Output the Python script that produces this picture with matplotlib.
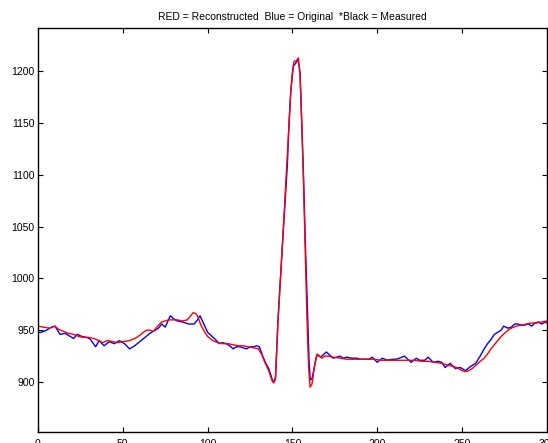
import matplotlib
matplotlib.use('Agg')
import matplotlib.pyplot as plt

# Original signal (blue)
orig_x = [0, 2, 5, 8, 10, 13, 16, 19, 21, 23, 26, 29, 31, 34, 36, 39, 42, 45, 48, 51,
          54, 57, 60, 63, 66, 69, 71, 73, 75, 78, 80, 82, 85, 87, 89, 92, 94, 95.5, 98, 100,
          102, 104, 107, 109, 111, 113, 115, 117, 119, 121, 123, 125, 127, 129, 130.5, 132.5,
          134, 136, 138, 139, 140, 141.5, 142.5, 144, 145.5, 147, 148, 149, 150.5, 152, 153,
          154, 154.5, 155.5, 156.5, 157.5, 158.8, 159.8, 160.5, 161.5, 162.5, 164, 165, 166.5,
          168, 170, 172, 174, 176, 178, 180, 182, 185, 188, 190, 192, 195, 197, 200, 203, 206,
          209, 211, 213, 216, 218, 220, 223, 225, 228, 230, 233, 236, 238, 240, 243, 246, 249,
          252, 255, 258, 261, 263, 265, 267, 269, 271, 273, 274.5, 277, 279, 281, 283, 285,
          287, 289, 291, 293, 295, 297, 299, 300]
orig_y = [948, 948, 950, 953, 954, 946, 947, 944, 942, 946, 944, 943, 941, 934, 940, 935, 939, 937, 940, 937,
          932, 935, 939, 943, 947, 950, 952, 956, 953, 964, 961, 959, 958, 957, 956, 956, 960, 964, 955, 948,
          945, 942, 937, 938, 937, 935, 932, 934, 934, 933, 932, 934, 934, 935, 934, 925,
          919, 913, 903, 900, 903, 960, 989, 1030, 1069, 1110, 1150, 1180, 1205, 1208, 1212,
          1205, 1198, 1150, 1100, 1040, 972, 920, 902, 903, 911, 924, 926, 924,
          926, 929, 926, 923, 924, 925, 923, 924, 923, 923, 922, 922, 922, 924, 919, 923, 921,
          922, 922, 923, 925, 922, 919, 923, 921, 921, 924, 919, 920, 919, 914, 918, 913, 914,
          911, 915, 918, 926, 932, 937, 941, 946, 948, 950, 954, 952, 953, 956, 956, 955,
          955, 956, 954, 957, 958, 956, 958, 957]

# Reconstructed signal (red)
recon_x = [0, 3, 7, 10, 12, 15, 18, 21, 24, 27, 30, 33, 36, 38, 41, 44, 47, 50, 54, 57,
           60, 62, 64, 66, 68, 70, 73, 75, 77, 80, 82, 85, 88, 90, 91.5, 93, 94, 96, 98, 100,
           103, 106, 109, 112, 115, 118, 121, 124, 127, 130, 132, 134, 136, 138, 139, 140,
           141.5, 143, 144.5, 146, 147.5, 149, 150, 151, 152.5, 153.5, 154.5, 155.5, 156.5,
           157.5, 158.5, 159.5, 160.4, 161.5, 163, 164.5, 166, 167.5, 169, 171, 174, 178, 182,
           186, 190, 194, 198, 202, 206, 210, 214, 218, 222, 226, 230, 234, 238, 242, 245, 248,
           250, 252, 254, 256, 258, 260, 263, 265, 267, 269, 271, 273, 275, 277, 279, 282, 285,
           288, 291, 294, 297, 300]
recon_y = [954, 953, 952, 954, 951, 949, 947, 946, 944, 943, 943, 942, 940, 938, 940, 939, 938, 939, 940, 942,
           945, 948, 950, 950, 949, 953, 958, 959, 960, 960, 960, 959, 960, 964, 967, 966, 964, 955, 949, 944,
           940, 938, 937, 937, 936, 935, 935, 934, 933, 932, 926, 918, 911, 901, 899, 905,
           960, 1000, 1045, 1090, 1135, 1180, 1200, 1210, 1210, 1213, 1195, 1150, 1095,
           1030, 965, 915, 895, 898, 915, 927, 925, 923, 925, 925, 924, 923, 922,
           922, 922, 922, 922, 921, 921, 921, 921, 921, 921, 920, 920, 919, 918, 916, 915, 913,
           911, 910, 911, 913, 916, 919, 923, 927, 932, 936, 940, 944, 947, 950, 952, 954, 955,
           956, 957, 957, 958, 959]

plt.rcParams['font.family'] = ['Liberation Sans', 'DejaVu Sans']

fig = plt.figure(figsize=(5.48, 4.43), dpi=100)
ax = fig.add_axes([0.0693, 0.0255, 0.9287, 0.9115])

ax.plot(orig_x, orig_y, color='#0000ff', lw=1.0)
ax.plot(recon_x, recon_y, color='#ff0000', lw=1.0)

ax.set_xlim(0, 300)
ax.set_ylim(852, 1242)
ax.set_xticks(range(0, 301, 50))
ax.set_yticks(range(900, 1201, 50))
ax.tick_params(direction='in', top=True, right=True, length=3.5, width=0.8,
               labelsize=7.5, colors='black')
ax.tick_params(axis='x', pad=5)
ax.tick_params(axis='y', pad=2.5)
for s in ax.spines.values():
    s.set_linewidth(1.0)

ax.set_title('RED = Reconstructed  Blue = Original  *Black = Measured', fontsize=7.5, pad=6)

fig.savefig('out.png', dpi=100)
